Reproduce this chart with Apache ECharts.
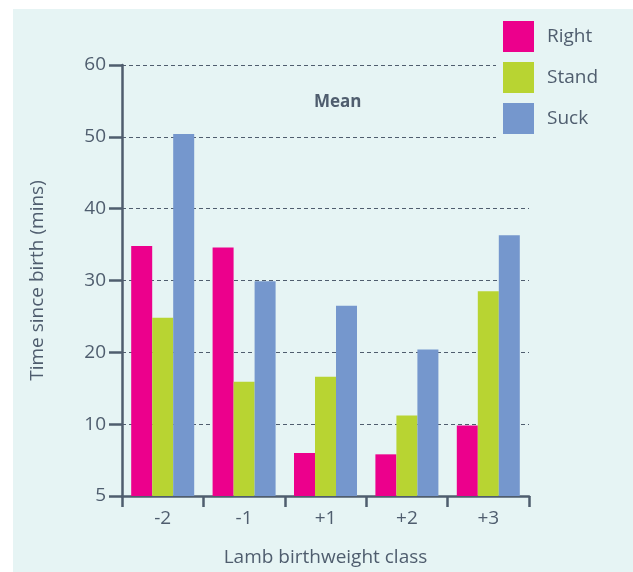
<!DOCTYPE html>
<html>
<head>
<meta charset="utf-8">
<script src="https://cdn.jsdelivr.net/npm/echarts@6/dist/echarts.min.js"></script>
<style>
html,body{margin:0;padding:0;background:#fff;}
#c{width:633px;height:572px;}
</style>
</head>
<body>
<div id="c"></div>
<script>
const categories = ['-2', '-1', '+1', '+2', '+3'];
const rightValues = [34.8, 34.6, 6.0, 5.8, 9.8];
const standValues = [24.8, 15.9, 16.6, 11.2, 28.5];
const suckValues = [50.4, 29.9, 26.5, 20.4, 36.3];
const yTickLabels = {0: '5', 10: '10', 20: '20', 30: '30', 40: '40', 50: '50', 60: '60'};

const ink = '#4f5d6e';
const font = 'Open Sans';
const chart = echarts.init(document.getElementById('c'));
chart.setOption({
  backgroundColor: 'transparent',
  textStyle: {fontFamily: font},
  graphic: [{
    type: 'rect', z: -10, silent: true,
    shape: {x: 13, y: 9, width: 620, height: 563},
    style: {fill: '#e6f4f4'}
  }],
  title: {
    text: 'Mean', left: 309, top: 89,
    textStyle: {fontFamily: font, fontSize: 17, fontWeight: 'bold', color: ink}
  },
  legend: {
    orient: 'vertical', left: 496, top: 14,
    itemWidth: 31, itemHeight: 31, itemGap: 10,
    icon: 'rect',
    backgroundColor: '#e6f4f4',
    padding: [7, 20, 7, 7],
    textStyle: {fontFamily: font, fontSize: 19, color: ink, padding: [0, 0, 0, 8]},
    data: ['Right', 'Stand', 'Suck']
  },
  grid: {left: 122, right: 104, top: 65, bottom: 73, containLabel: false},
  xAxis: {
    type: 'category', data: categories,
    name: 'Lamb birthweight class', nameLocation: 'middle', nameGap: 52,
    nameTextStyle: {fontFamily: font, fontSize: 19, color: ink},
    axisLine: {lineStyle: {color: ink, width: 2.5}},
    axisTick: {show: true, length: 11, lineStyle: {color: ink, width: 2.5}, alignWithLabel: false},
    axisLabel: {fontFamily: font, fontSize: 19, color: ink, margin: 13}
  },
  yAxis: {
    type: 'value', min: 0, max: 60, interval: 10,
    name: 'Time since birth (mins)', nameLocation: 'middle', nameGap: 75, nameRotate: 90,
    nameTextStyle: {fontFamily: font, fontSize: 19, color: ink, padding: [0, 0, 0, 0]},
    axisLine: {show: true, lineStyle: {color: ink, width: 2.5}},
    axisTick: {show: true, length: 13, lineStyle: {color: ink, width: 2.5}},
    axisLabel: {fontFamily: font, fontSize: 19, color: ink, margin: 16,
      formatter: v => yTickLabels[v] !== undefined ? yTickLabels[v] : ''},
    splitLine: {show: true, lineStyle: {color: ink, width: 1, type: [4, 3]}}
  },
  series: [
    {name: 'Right', type: 'bar', data: rightValues, itemStyle: {color: '#ec008c'}, barWidth: 21, barGap: '0%'},
    {name: 'Stand', type: 'bar', data: standValues, itemStyle: {color: '#b8d432'}, barWidth: 21, barGap: '0%'},
    {name: 'Suck', type: 'bar', data: suckValues, itemStyle: {color: '#7597cd'}, barWidth: 21, barGap: '0%'}
  ]
});
</script>
</body>
</html>
